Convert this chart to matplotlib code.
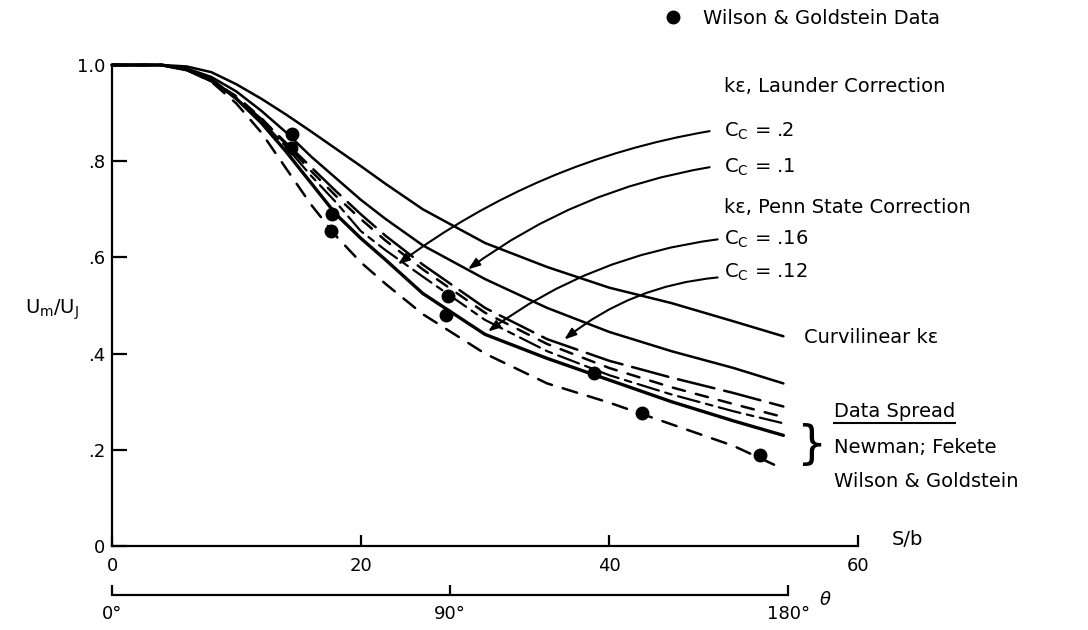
import matplotlib
matplotlib.use("Agg")
import matplotlib.pyplot as plt
from matplotlib.lines import Line2D

plt.rcParams['font.family'] = ['DejaVu Sans']
plt.rcParams['mathtext.fontset'] = 'dejavusans'

# ---------------- data ----------------
s_b = [0, 2, 4, 6, 8, 10, 12, 14, 16, 18, 20, 22, 25, 30, 35, 40, 45, 50, 54]
u_curvilinear = [1.0, 1.0, 1.0, .997, .985, .96, .93, .897, .862, .826, .79, .753, .70, .63, .58, .537, .505, .467, .436]
u_launder_cc10 = [1.0, 1.0, 1.0, .993, .975, .945, .905, .86, .81, .765, .72, .68, .625, .555, .495, .445, .405, .37, .338]
u_launder_cc20 = [1.0, 1.0, 1.0, .99, .966, .93, .885, .83, .77, .715, .655, .615, .56, .47, .405, .355, .315, .28, .255]
u_penn_cc12 = [1.0, 1.0, 1.0, .99, .966, .932, .888, .838, .788, .738, .69, .645, .585, .495, .43, .385, .35, .318, .29]
u_penn_cc16 = [1.0, 1.0, 1.0, .99, .97, .93, .88, .82, .755, .69, .64, .595, .525, .44, .39, .345, .30, .26, .23]
u_spread_upper = [1.0, 1.0, 1.0, .99, .968, .935, .89, .835, .78, .728, .68, .635, .575, .485, .42, .37, .33, .295, .268]
u_spread_lower = [1.0, 1.0, 1.0, .99, .965, .92, .86, .785, .71, .645, .59, .545, .482, .40, .338, .298, .253, .208, .16]

wg_s = [14.5, 14.4, 17.7, 17.6, 27.0, 26.9, 38.8, 42.6, 52.1]
wg_u = [.856, .827, .69, .654, .519, .48, .36, .277, .19]

x_ticks = [0, 20, 40, 60]
x_labels = ['0', '20', '40', '60']
y_ticks = [0, .2, .4, .6, .8, 1.0]
y_labels = ['0', '.2', '.4', '.6', '.8', '1.0']
theta_ticks = [0, 90, 180]
theta_labels = ['0°', '90°', '180°']
theta_end_sb = 54.4   # S/b where theta = 180 deg

# ---------------- layout ----------------
W, H = 1088, 630
X0, X60, Y0, Y1 = 112, 858, 546, 65

fig = plt.figure(figsize=(W / 100, H / 100), dpi=100)
fig.patch.set_facecolor('white')
ax = fig.add_axes([X0 / W, (H - Y0) / H, (X60 - X0) / W, (Y0 - Y1) * 1.02 / H])
ax.set_xlim(0, 60)
ax.set_ylim(0, 1.02)
ax.patch.set_visible(False)


def dpos(x, y):
    """pixel position in the reference -> data coordinates"""
    return (x - X0) / 12.4, (Y0 - y) / 480.0


for side in ('top', 'right'):
    ax.spines[side].set_visible(False)
ax.spines['left'].set_bounds(0, 1.0)
ax.spines['bottom'].set_bounds(0, 60)
for side in ('left', 'bottom'):
    ax.spines[side].set_linewidth(1.6)

ax.set_xticks(x_ticks, labels=x_labels)
ax.set_yticks(y_ticks, labels=y_labels)
ax.tick_params(axis='y', direction='in', length=11, width=1.6, pad=5, labelsize=13)
ax.tick_params(axis='x', direction='in', length=8, width=1.6, pad=8, labelsize=13)

# ---------------- curves ----------------
k = dict(color='black', clip_on=False, solid_capstyle='round', dash_capstyle='round')
ax.plot(s_b, u_curvilinear, lw=1.8, ls='-', **k)
ax.plot(s_b, u_launder_cc10, lw=1.8, ls='-', **k)
ax.plot(s_b, u_launder_cc20, lw=1.6, ls=(0, (10, 3, 3, 3)), **k)
ax.plot(s_b, u_penn_cc12, lw=1.8, ls=(0, (15, 4)), **k)
ax.plot(s_b, u_penn_cc16, lw=2.4, ls='-', **k)
ax.plot(s_b, u_spread_upper, lw=1.8, ls=(0, (5, 4.5)), **k)
ax.plot(s_b, u_spread_lower, lw=1.8, ls=(0, (6, 4.5)), **k)
pts, = ax.plot(wg_s, wg_u, 'o', color='black', ms=9, ls='none', zorder=5,
               clip_on=False, label='Wilson & Goldstein Data')

# ---------------- labels & annotations ----------------
fs = 14
ax.text(*dpos(722, 87), 'kε, Launder Correction', fontsize=fs, va='center', ha='left')
ax.text(*dpos(722, 132), r'C$_\mathrm{C}$ = .2', fontsize=fs, va='center', ha='left')
ax.text(*dpos(722, 168), r'C$_\mathrm{C}$ = .1', fontsize=fs, va='center', ha='left')
ax.text(*dpos(722, 208), 'kε, Penn State Correction', fontsize=fs, va='center', ha='left')
ax.text(*dpos(722, 240), r'C$_\mathrm{C}$ = .16', fontsize=fs, va='center', ha='left')
ax.text(*dpos(722, 273), r'C$_\mathrm{C}$ = .12', fontsize=fs, va='center', ha='left')
ax.text(*dpos(802, 338), 'Curvilinear kε', fontsize=fs, va='center', ha='left')
t_ds = ax.text(*dpos(832, 412), 'Data Spread', fontsize=fs, va='center', ha='left')
ax.text(*dpos(832, 448), 'Newman; Fekete', fontsize=fs, va='center', ha='left')
ax.text(*dpos(832, 482), 'Wilson & Goldstein', fontsize=fs, va='center', ha='left')
ax.text(*dpos(809, 446), '}', fontsize=34, va='center', ha='center')
ax.text(*dpos(890, 540), 'S/b', fontsize=fs, va='center', ha='left')

# leaders: (start near label) -> (arrow tip on curve)
leaders = [((708, 132), (397, 265), 0.12),
           ((708, 168), (467, 270), 0.12),
           ((716, 240), (487, 332), 0.13),
           ((716, 278), (563, 340), 0.15)]
for (a, b, rad) in leaders:
    ax.annotate('', xy=dpos(*b), xytext=dpos(*a),
                arrowprops=dict(arrowstyle='-|>,head_length=0.7,head_width=0.25',
                                connectionstyle=f'arc3,rad={rad}', lw=1.5,
                                color='black', shrinkA=0, shrinkB=0))

ax.set_ylabel(r'U$_\mathrm{m}$/U$_\mathrm{J}$', rotation=0, fontsize=14, va='center', ha='center')
ax.yaxis.set_label_coords((52 - X0) / (X60 - X0), ((Y0 - 310) / 480) / 1.02)

ax.legend(handles=[pts], loc='center left', bbox_to_anchor=(664 / W, 1 - 18 / H),
          bbox_transform=fig.transFigure, frameon=False, handlelength=0.9,
          handletextpad=1.1, borderpad=0, borderaxespad=0, fontsize=fs)

# ---------------- theta axis ----------------
axt = fig.add_axes([X0 / W, (H - 595) / H, (X60 - X0) / W, 0.0001])
axt.set_xlim(0, 180 * 60 / theta_end_sb)
axt.patch.set_visible(False)
for side in ('top', 'right', 'left'):
    axt.spines[side].set_visible(False)
axt.spines['bottom'].set_bounds(0, 180)
axt.spines['bottom'].set_linewidth(1.6)
axt.set_yticks([])
axt.set_xticks(theta_ticks, labels=theta_labels)
axt.tick_params(axis='x', direction='in', length=7, width=1.6, pad=7, labelsize=13)
fig.text(825 / W, 1 - 600 / H, 'θ', fontsize=13, style='italic', ha='center', va='center')

# underline "Data Spread"
fig.canvas.draw()
bb = t_ds.get_window_extent()
fig.add_artist(Line2D([bb.x0 / W, bb.x1 / W], [(bb.y0 - 2) / H, (bb.y0 - 2) / H],
                      transform=fig.transFigure, color='black', lw=1.5))

fig.savefig('out.png', dpi=100, facecolor='white')
